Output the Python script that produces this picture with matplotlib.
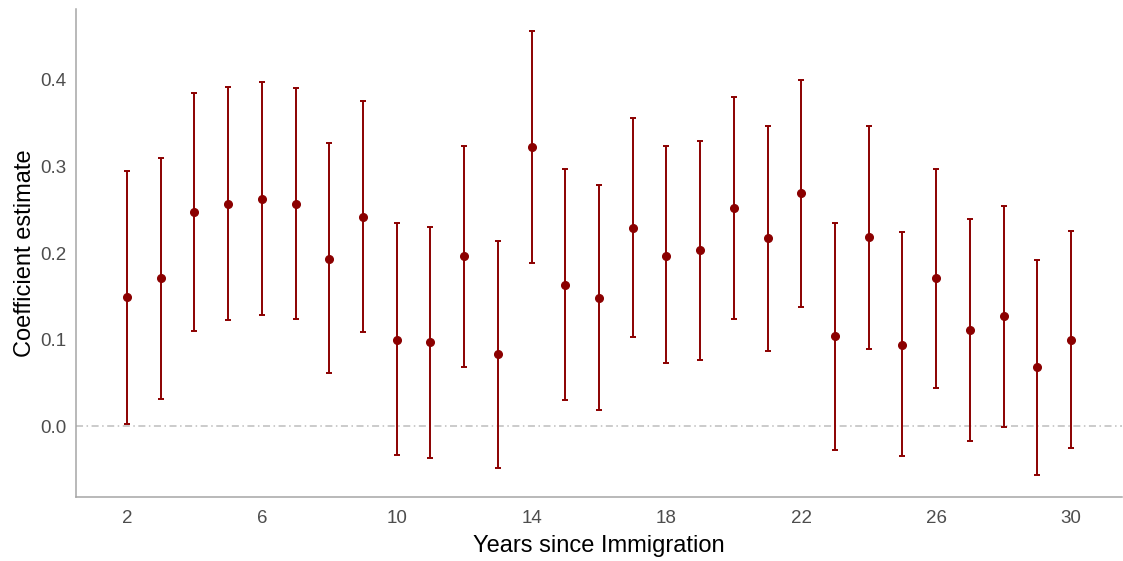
import numpy as np
import matplotlib.pyplot as plt

plt.rcParams['font.family'] = ['Liberation Sans', 'DejaVu Sans']

# years since immigration and coefficient estimates with 95% bounds
years = np.arange(2, 31)
estimate = [0.149, 0.171, 0.247, 0.257, 0.262, 0.257, 0.193, 0.242, 0.100, 0.097,
            0.196, 0.083, 0.322, 0.163, 0.148, 0.229, 0.197, 0.203, 0.252, 0.217,
            0.269, 0.104, 0.218, 0.094, 0.171, 0.111, 0.127, 0.068, 0.100]
upper = [0.295, 0.310, 0.385, 0.392, 0.397, 0.390, 0.327, 0.375, 0.235, 0.230,
         0.324, 0.214, 0.456, 0.297, 0.278, 0.356, 0.323, 0.329, 0.380, 0.347,
         0.400, 0.235, 0.347, 0.224, 0.297, 0.239, 0.254, 0.192, 0.225]
lower = [0.003, 0.031, 0.110, 0.123, 0.128, 0.124, 0.061, 0.109, -0.033, -0.036,
         0.068, -0.048, 0.188, 0.030, 0.019, 0.103, 0.073, 0.076, 0.124, 0.087,
         0.138, -0.027, 0.089, -0.034, 0.044, -0.017, -0.001, -0.056, -0.025]

estimate = np.array(estimate)
upper = np.array(upper)
lower = np.array(lower)

fig = plt.figure(figsize=(11.23, 5.61), dpi=100)
ax = fig.add_axes([0.0677, 0.114, 0.9313, 0.870])

ax.axhline(0, color="#bdbdbd", lw=1.1, ls=(0, (4.6, 2.3, 1, 2.3)), zorder=1)
ax.errorbar(years, estimate, yerr=[estimate - lower, upper - estimate],
            fmt="o", color="#8B0000", ecolor="#8B0000", elinewidth=1.4,
            capsize=2.5, capthick=1.4, markersize=5.5, zorder=3)

ax.set_xlim(0.49, 31.51)
ax.set_ylim(-0.0816, 0.4816)
ax.set_xticks(np.arange(2, 31, 4))
ax.set_yticks([0.0, 0.1, 0.2, 0.3, 0.4])
ax.set_yticklabels(["0.0", "0.1", "0.2", "0.3", "0.4"])

for side in ["top", "right"]:
    ax.spines[side].set_visible(False)
for side in ["left", "bottom"]:
    ax.spines[side].set_color("#a6a6a6")
    ax.spines[side].set_linewidth(1.1)
ax.tick_params(length=0, labelsize=13.5, labelcolor="#4d4d4d")
ax.tick_params(axis="x", pad=9)
ax.tick_params(axis="y", pad=7)

ax.set_xlabel("Years since Immigration", fontsize=17, labelpad=6)
ax.set_ylabel("Coefficient estimate", fontsize=17, labelpad=3)

fig.savefig("out.png", dpi=100)
